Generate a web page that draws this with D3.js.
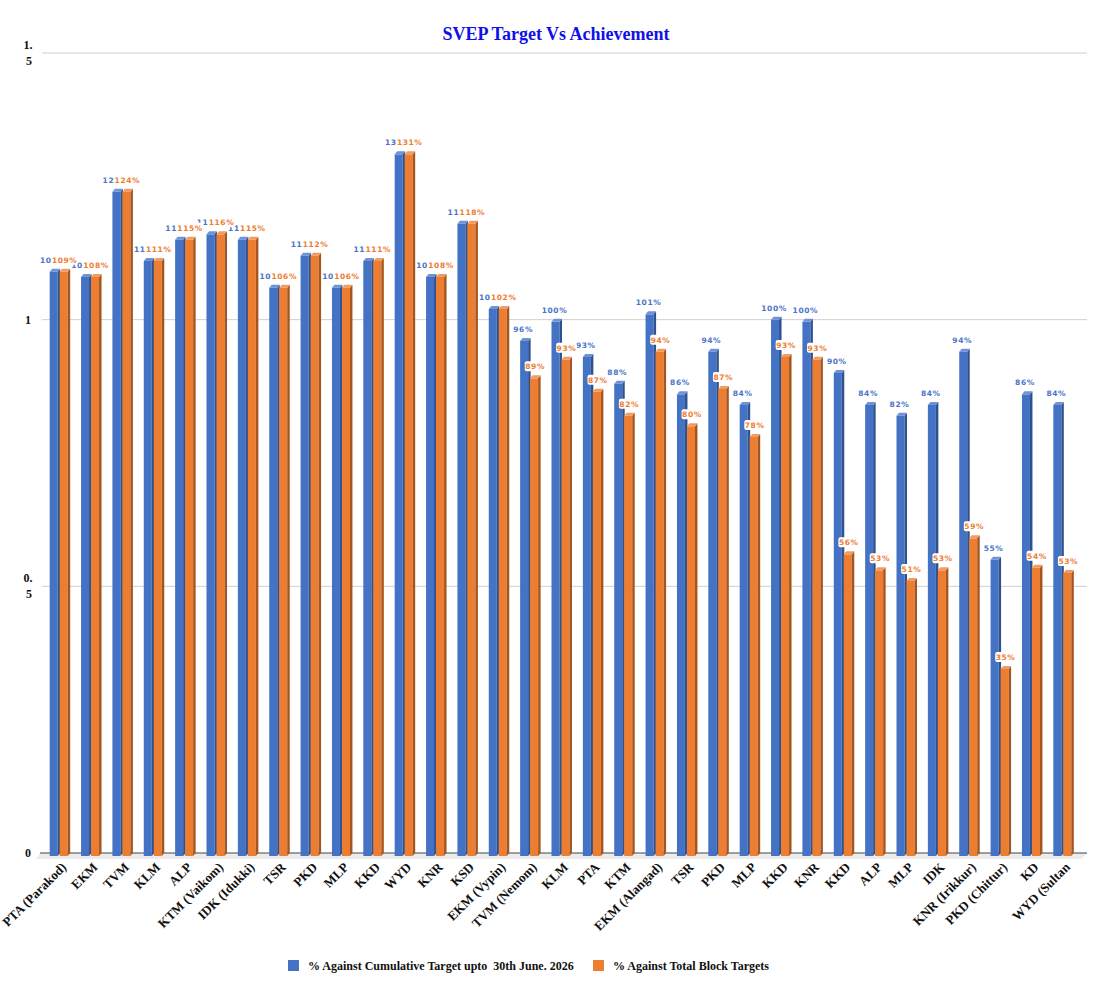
<!DOCTYPE html>
<html>
<head>
<meta charset="utf-8">
<script src="https://cdn.jsdelivr.net/npm/d3@7"></script>
<style>
  body { margin: 0; background: #fff; }
  svg text { white-space: pre; }
</style>
</head>
<body>
<div id="chart"></div>
<script>
// chart data
const categories = ["PTA (Parakod)","EKM","TVM","KLM","ALP","KTM (Vaikom)","IDK (Idukki)","TSR","PKD","MLP","KKD","WYD","KNR","KSD","EKM (Vypin)","TVM (Nemom)","KLM","PTA","KTM","EKM (Alangad)","TSR","PKD","MLP","KKD","KNR","KKD","ALP","MLP","IDK","KNR (Irikkur)","PKD (Chittur)","KD","WYD (Sultan"];
const cumulative = [1.09,1.08,1.24,1.11,1.15,1.16,1.15,1.06,1.12,1.06,1.11,1.31,1.08,1.18,1.02,0.96,0.996,0.93,0.88,1.01,0.86,0.94,0.84,1.0,0.996,0.90,0.84,0.82,0.84,0.94,0.55,0.86,0.84];
const blockTarget = [1.09,1.08,1.24,1.11,1.15,1.16,1.15,1.06,1.12,1.06,1.11,1.31,1.08,1.18,1.02,0.89,0.925,0.865,0.82,0.94,0.80,0.87,0.78,0.93,0.925,0.56,0.53,0.51,0.53,0.59,0.345,0.535,0.525];
const seriesNames = ["% Against Cumulative Target upto  30th June. 2026","% Against Total Block Targets"];
const yTicks = [0, 0.5, 1, 1.5];
const yTickLabels = ["0", "0.|5", "1", "1.|5"];

const width = 1097, height = 999;
const colors = [
  {front:"#4472C4", side:"#2F528F", top:"#6F93D6", label:"#4A74C8"},
  {front:"#ED7D31", side:"#A5561F", top:"#F39B5F", label:"#ED7D31"}
];

const svg = d3.select("#chart").append("svg")
  .attr("width", width).attr("height", height);

const x = d3.scaleBand().domain(d3.range(categories.length)).range([43.5, 1078.5]);
const y = d3.scaleLinear().domain([0, 1.5]).range([853, 53]);

// title
svg.append("text")
  .attr("x", 556).attr("y", 40)
  .attr("text-anchor", "middle")
  .attr("font-family", "Liberation Serif, Times New Roman, serif")
  .attr("font-weight", "bold").attr("font-size", 18)
  .attr("fill", "#1010E8")
  .text("SVEP Target Vs Achievement");

// gridlines
svg.append("g").selectAll("line")
  .data(yTicks.filter(d => d > 0))
  .join("line")
    .attr("x1", 42).attr("x2", 1087)
    .attr("y1", d => y(d)).attr("y2", d => y(d))
    .attr("stroke", "#cfcfcf").attr("stroke-width", 1);

// floor
svg.append("path")
  .attr("d", `M40,${y(0)} L1087,${y(0)} L1082,${y(0)+6} L36,${y(0)+6} Z`)
  .attr("fill", "#ececec");
svg.append("line")
  .attr("x1", 40).attr("x2", 1087)
  .attr("y1", y(0)).attr("y2", y(0))
  .attr("stroke", "#444").attr("stroke-width", 1);

// y tick labels
const yl = svg.append("g")
  .attr("font-family", "Liberation Serif, Times New Roman, serif")
  .attr("font-weight", "bold").attr("font-size", 12)
  .attr("text-anchor", "middle").attr("fill", "#111");
yTicks.forEach((t, i) => {
  const parts = yTickLabels[i].split("|");
  const txt = yl.append("text").attr("x", 28);
  if (parts.length === 1) {
    txt.attr("y", y(t) + 4).text(parts[0]);
  } else {
    txt.append("tspan").attr("x", 28).attr("y", y(t) - 4).text(parts[0]);
    txt.append("tspan").attr("x", 29).attr("y", y(t) + 12).text(parts[1]);
  }
});

// 3D bars
const bw = 8, dx = 2.5, dy = 3;
const barX = (i, s) => x(i) + x.bandwidth()/2 - 9.5 + s * 10;
const base = y(0) + 3;
const series = [cumulative, blockTarget];

series.forEach((vals, s) => {
  const g = svg.append("g");
  const c = colors[s];
  vals.forEach((v, i) => {
    const x0 = barX(i, s), y0 = y(v);
    g.append("rect").attr("x", x0).attr("y", y0).attr("width", bw).attr("height", base - y0).attr("fill", c.front);
    g.append("path").attr("d", `M${x0+bw},${y0} L${x0+bw+dx},${y0-dy} L${x0+bw+dx},${base-dy} L${x0+bw},${base} Z`).attr("fill", c.side);
    g.append("path").attr("d", `M${x0},${y0} L${x0+dx},${y0-dy} L${x0+bw+dx},${y0-dy} L${x0+bw},${y0} Z`).attr("fill", c.top);
  });
});

// data labels (orange ones sit on a white box, hiding part of the blue one)
series.forEach((vals, s) => {
  const c = colors[s];
  const g = svg.append("g")
    .attr("font-family", "DejaVu Sans, sans-serif")
    .attr("font-weight", "bold").attr("font-size", 7.5)
    .attr("text-anchor", "middle");
  vals.forEach((v, i) => {
    const cx = barX(i, s) + bw/2 + (s === 0 ? -1 : 1), cy = y(v) - 12;
    const lab = Math.round(v * 100) + "%";
    const grp = g.append("g");
    const t = grp.append("text").attr("x", cx).attr("y", cy + 3)
      .attr("fill", c.label).attr("letter-spacing", 0.6).text(lab);
    if (s === 1) {
      const w = t.node().getComputedTextLength() + 1;
      grp.insert("rect", "text").attr("x", cx - w/2).attr("y", cy - 5)
        .attr("width", w).attr("height", 10).attr("rx", 2).attr("fill", "#fff");
    }
  });
});

// x labels
svg.append("g")
  .attr("font-family", "Liberation Serif, Times New Roman, serif")
  .attr("font-weight", "bold").attr("font-size", 13)
  .attr("text-anchor", "end").attr("fill", "#111")
  .selectAll("text")
  .data(categories)
  .join("text")
    .attr("transform", (d, i) => `translate(${x(i) + x.bandwidth()/2 + 8},${y(0) + 15}) rotate(-45)`)
    .text(d => d);

// legend
const legX = [288, 593];
const lg = svg.append("g")
  .attr("font-family", "Liberation Serif, Times New Roman, serif")
  .attr("font-weight", "bold").attr("font-size", 12).attr("fill", "#111");
seriesNames.forEach((n, s) => {
  lg.append("rect").attr("x", legX[s]).attr("y", 960).attr("width", 11).attr("height", 11).attr("fill", colors[s].front);
  lg.append("text").attr("x", legX[s] + 20).attr("y", 970).text(n);
});
</script>
</body>
</html>
